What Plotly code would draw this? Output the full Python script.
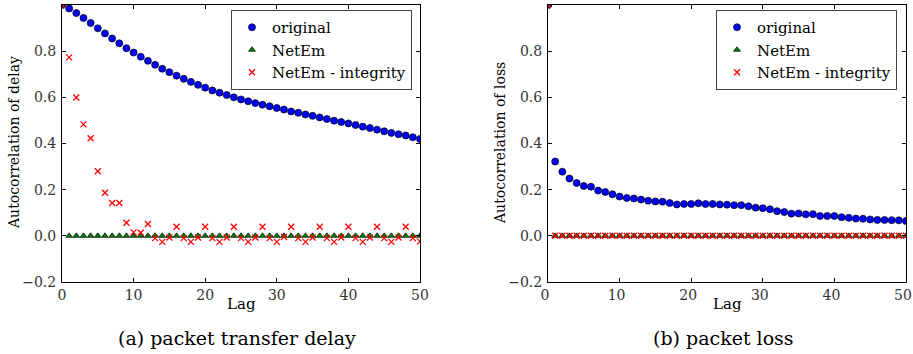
import plotly.graph_objects as go

lags = list(range(0, 51))

delay_original = [1.0, 0.985, 0.965, 0.944, 0.922, 0.899, 0.877, 0.855, 0.834, 0.813,
                  0.794, 0.776, 0.758, 0.741, 0.724, 0.709, 0.694, 0.680, 0.667, 0.654,
                  0.642, 0.630, 0.620, 0.610, 0.600, 0.591, 0.583, 0.575, 0.568, 0.561,
                  0.554, 0.547, 0.539, 0.533, 0.526, 0.520, 0.513, 0.506, 0.499, 0.493,
                  0.487, 0.480, 0.473, 0.467, 0.460, 0.453, 0.446, 0.440, 0.435, 0.427,
                  0.420]
delay_netem = [1.0] + [0.0] * 50
delay_integrity = [1.0, 0.773, 0.599, 0.483, 0.423, 0.280, 0.187, 0.142, 0.142, 0.057,
                   0.015, 0.013, 0.051, -0.010, -0.026, -0.007, 0.039, -0.010, -0.026, -0.007,
                   0.039, -0.010, -0.026, -0.007, 0.039, -0.010, -0.026, -0.007, 0.039, -0.010,
                   -0.026, -0.005, 0.039, -0.010, -0.026, -0.007, 0.039, -0.010, -0.026, -0.007,
                   0.039, -0.010, -0.026, -0.007, 0.039, -0.010, -0.026, -0.007, 0.039, -0.010,
                   -0.024]

loss_original = [1.0, 0.322, 0.278, 0.248, 0.229, 0.216, 0.213, 0.196, 0.190, 0.180,
                 0.170, 0.164, 0.162, 0.157, 0.152, 0.149, 0.148, 0.142, 0.136, 0.138,
                 0.138, 0.141, 0.138, 0.138, 0.136, 0.135, 0.133, 0.133, 0.128, 0.122,
                 0.120, 0.115, 0.107, 0.103, 0.096, 0.097, 0.093, 0.094, 0.086, 0.086,
                 0.086, 0.081, 0.078, 0.075, 0.074, 0.071, 0.069, 0.069, 0.068, 0.067,
                 0.064]
loss_netem = [1.0] + [0.0] * 50
loss_integrity = [1.0] + [0.0] * 50

series_names = ["original", "NetEm", "NetEm - integrity"]
y_ticks = [-0.2, 0.0, 0.2, 0.4, 0.6, 0.8]
x_ticks = [0, 10, 20, 30, 40, 50]

FONT = "DejaVu Serif"
W, H = 913, 354

fig = go.Figure()

def add_series(xaxis, yaxis, legend, orig, netem, integ):
    fig.add_trace(go.Scatter(
        x=lags, y=orig, mode="markers", name=series_names[0],
        xaxis=xaxis, yaxis=yaxis, legend=legend,
        marker=dict(symbol="circle", size=7, color="#0000ff",
                    line=dict(color="black", width=0.7))))
    fig.add_trace(go.Scatter(
        x=lags, y=netem, mode="markers", name=series_names[1],
        xaxis=xaxis, yaxis=yaxis, legend=legend,
        marker=dict(symbol="triangle-up", size=6, color="#008000",
                    line=dict(color="black", width=0.7))))
    fig.add_trace(go.Scatter(
        x=lags, y=integ, mode="markers", name=series_names[2],
        xaxis=xaxis, yaxis=yaxis, legend=legend,
        marker=dict(symbol="x-thin", size=6, color="#ff0000",
                    line=dict(color="#ff0000", width=1.3))))

add_series("x", "y", "legend", delay_original, delay_netem, delay_integrity)
add_series("x2", "y2", "legend2", loss_original, loss_netem, loss_integrity)

def px_x(p):
    return p / W

def px_y(p):
    return (H - p) / H

ydom = [px_y(282), px_y(5)]

axis_common = dict(
    showgrid=False, zeroline=False, showline=True, linecolor="black", linewidth=1,
    mirror="allticks", ticks="inside", ticklen=4, tickwidth=1, tickcolor="black",
    tickfont=dict(family=FONT, size=14, color="#333"), automargin=False,
    ticklabeloverflow="allow",
)

legend_common = dict(
    xanchor="right", yanchor="top",
    bordercolor="#444", borderwidth=1, bgcolor="white",
    font=dict(family=FONT, size=15, color="black"),
    tracegroupgap=0,
)

fig.update_layout(
    width=W, height=H,
    margin=dict(l=0, r=0, t=0, b=0, autoexpand=False),
    paper_bgcolor="white", plot_bgcolor="white",
    showlegend=True,
    font=dict(family=FONT),
    xaxis=dict(domain=[px_x(62), px_x(420)], range=[0, 50], tickvals=x_ticks,
               anchor="y", ticklabelstandoff=0, **axis_common),
    yaxis=dict(domain=ydom, range=[-0.2, 1.0], tickvals=y_ticks, tickformat=".1f",
               anchor="x", ticklabelstandoff=2, **axis_common),
    xaxis2=dict(domain=[px_x(548), px_x(906)], range=[0, 50], tickvals=x_ticks,
                anchor="y2", ticklabelstandoff=0, ticklabelshift=-3, **axis_common),
    yaxis2=dict(domain=ydom, range=[-0.2, 1.0], tickvals=y_ticks, tickformat=".1f",
                anchor="x2", ticklabelstandoff=2, **axis_common),
    legend=dict(x=px_x(412), y=px_y(10), **legend_common),
    legend2=dict(x=px_x(897), y=px_y(10), **legend_common),
)

annots = [
    dict(text="Lag", x=px_x(241), y=px_y(304), font_size=15),
    dict(text="Lag", x=px_x(727), y=px_y(304), font_size=15),
    dict(text="Autocorrelation of delay", x=px_x(14), y=px_y(143), font_size=14, textangle=-90),
    dict(text="Autocorrelation of loss", x=px_x(500), y=px_y(143), font_size=14, textangle=-90),
    dict(text="(a) packet transfer delay", x=px_x(237), y=px_y(338), font_size=19),
    dict(text="(b) packet loss", x=px_x(723), y=px_y(338), font_size=19),
]
for a in annots:
    fs = a.pop("font_size")
    fig.add_annotation(xref="paper", yref="paper", showarrow=False,
                       xanchor="center", yanchor="middle",
                       font=dict(family=FONT, size=fs, color="black"), **a)

fig.write_html("out.html")
